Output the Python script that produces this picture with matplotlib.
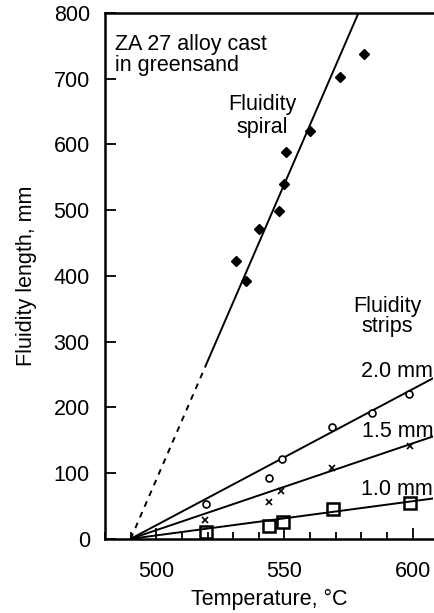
import matplotlib
matplotlib.use('Agg')
import matplotlib.pyplot as plt
import numpy as np
from matplotlib.ticker import MultipleLocator

plt.rcParams['font.family'] = ['Liberation Sans', 'DejaVu Sans']
plt.rcParams['font.size'] = 15.5

# fluidity spiral
spiral_t = [531, 535, 540, 548, 550, 550.5, 560, 571.5, 581]
spiral_len = [422, 392, 472, 498, 540, 588, 620, 702, 737]

# fluidity strips
t_20 = [519.5, 544, 549, 568.5, 584, 598.5]
len_20 = [53, 92, 122, 170, 192, 221]
t_15 = [519, 544, 548.5, 568.5, 599]
len_15 = [28, 56, 72, 107, 141]
t_10 = [519.5, 544, 549.5, 569, 599]
len_10 = [11, 19, 26, 45, 54]

# fitted lines, all starting at the same zero-fluidity temperature
t_zero = 490
slope_spiral = 9.0
slope_20 = 2.07
slope_15 = 1.32
slope_10 = 0.52

fig = plt.figure(figsize=(4.34, 6.13), dpi=100)
ax = fig.add_axes([0.242, 0.121, 0.756, 0.858])

ax.set_xlim(480, 608)
ax.set_ylim(0, 800)

# spiral fit: dashed extrapolation then solid
t_dash = np.array([t_zero, 520])
ax.plot(t_dash, slope_spiral * (t_dash - t_zero), color='black', lw=1.4, ls=(0, (3, 3)))
t_sol = np.array([520, t_zero + 800 / slope_spiral])
ax.plot(t_sol, slope_spiral * (t_sol - t_zero), color='black', lw=1.4)

t_line = np.array([t_zero, 608])
for s in (slope_20, slope_15, slope_10):
	ax.plot(t_line, s * (t_line - t_zero), color='black', lw=1.4)

ax.plot(spiral_t, spiral_len, 'D', color='black', ms=5.5, ls='none')
ax.plot(t_20, len_20, 'o', mfc='white', mec='black', mew=1.2, ms=5, ls='none')
ax.plot(t_15, len_15, 'x', color='black', mew=1.2, ms=4.5, ls='none')
ax.plot(t_10, len_10, 's', mfc='none', mec='black', mew=1.8, ms=8, ls='none')

ax.text(483.9, 743, 'ZA 27 alloy cast', ha='left', va='baseline')
ax.text(483.9, 712, 'in greensand', ha='left', va='baseline')
ax.text(541.3, 652, 'Fluidity', ha='center', va='baseline')
ax.text(541.3, 618, 'spiral', ha='center', va='baseline')
ax.text(590, 345, 'Fluidity', ha='center', va='baseline')
ax.text(590, 314, 'strips', ha='center', va='baseline')
ax.text(608, 246, '2.0 mm', ha='right', va='baseline')
ax.text(608, 155, '1.5 mm', ha='right', va='baseline')
ax.text(608, 67, '1.0 mm', ha='right', va='baseline')

ax.xaxis.set_major_locator(MultipleLocator(50))
ax.xaxis.set_minor_locator(MultipleLocator(10))
ax.yaxis.set_major_locator(MultipleLocator(100))
ax.tick_params(axis='both', which='major', direction='in', length=8, width=1.3, labelsize=15.5)
ax.tick_params(axis='x', which='major', pad=16)
ax.tick_params(axis='x', which='minor', direction='in', length=5, width=1.3)
ax.tick_params(axis='y', pad=11)

for side in ('left', 'bottom', 'top'):
	ax.spines[side].set_linewidth(1.8)
ax.spines['right'].set_visible(False)

ax.set_xlabel('Temperature, °C', fontsize=15.5, labelpad=5)
ax.set_ylabel('Fluidity length, mm', fontsize=15.5, labelpad=12)

plt.savefig('out.png', dpi=100)
